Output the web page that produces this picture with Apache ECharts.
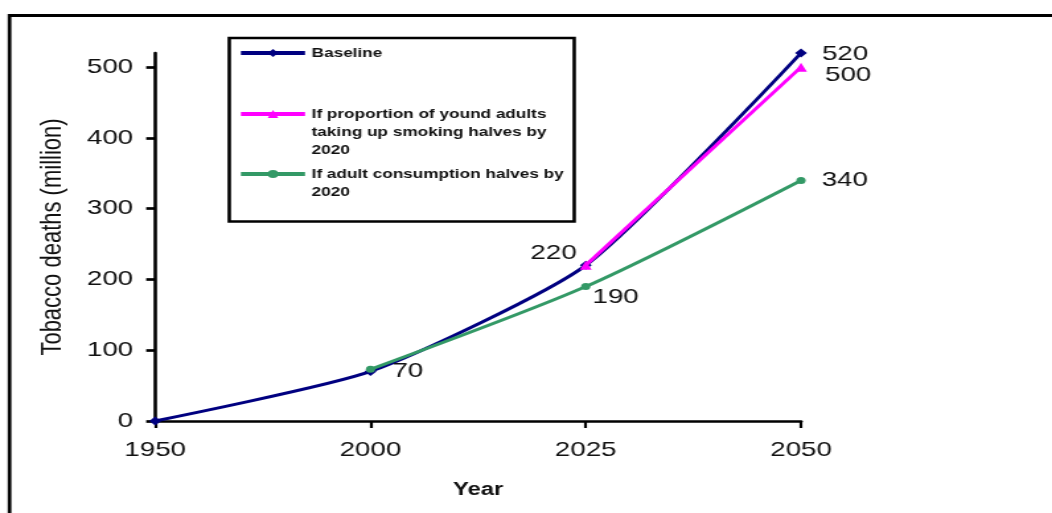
<!DOCTYPE html>
<html><head><meta charset="utf-8">
<script src="https://cdn.jsdelivr.net/npm/echarts@6/dist/echarts.min.js"></script>
<style>
html,body{margin:0;padding:0;background:#fff;overflow:hidden}
#c{height:513px;transform-origin:0 0}
</style>
</head><body><div id="c"></div>
<script>
// ---- data ----
const years = ['1950', '2000', '2025', '2050'];
const baseline = [0, 70, 220, 520];
const youngHalves = [null, null, 220, 500];
const adultHalves = [null, 73, 190, 340];
const yTicks = [0, 100, 200, 300, 400, 500];
const seriesNames = [
  'Baseline',
  'If proportion of yound adults taking up smoking halves by 2020',
  'If adult consumption halves by 2020'
];
const legendLines = [
  ['Baseline'],
  ['If proportion of yound adults', 'taking up smoking halves by', '2020'],
  ['If adult consumption halves by', '2020']
];
// which points carry a value label (index -> placement key)
const baselineLabelAt = [null, 'r70', 'l220', 'r520'];
const youngLabelAt = [null, null, null, 'r500'];
const adultLabelAt = [null, null, 'r190', 'r340'];

// ---- layout / styles (the reference picture is horizontally stretched) ----
const SX = 1.32;
const W = 1052 / SX;
const el = document.getElementById('c');
el.style.width = W + 'px';
el.style.transform = 'scaleX(' + SX + ')';
const px = v => v / SX; // horizontal reference pixels -> chart pixels

const FONT = '"Liberation Sans", Arial, sans-serif';
const labelStyles = {
  r70: { position: 'right', distance: px(16), offset: [0, 0] },
  l220: { position: 'left', distance: px(3), offset: [0, -12] },
  r520: { position: 'right', distance: px(15), offset: [0, 1] },
  r500: { position: 'right', distance: px(18), offset: [0, 8] },
  r190: { position: 'right', distance: px(2), offset: [0, 11] },
  r340: { position: 'right', distance: px(16), offset: [0, 0] }
};
function build(values, labelAt) {
  return values.map((v, i) => {
    if (v === null) return null;
    const key = labelAt[i];
    if (!key) return { value: v };
    return { value: v, label: Object.assign({ show: true, fontSize: 21, fontFamily: FONT, color: '#111' }, labelStyles[key]) };
  });
}
const colors = ['#000080', '#FF00FF', '#339966'];
const lineH = 18;
const legendTops = [44, 69, 147];

const chart = echarts.init(el, null, { renderer: 'canvas', width: W, height: 513 });
chart.setOption({
  animation: false,
  backgroundColor: '#fff',
  color: colors,
  grid: { left: px(155), right: px(252), top: 53, bottom: 92, containLabel: false },
  graphic: [
    { type: 'rect', shape: { x: px(9.5), y: 15.5, width: 1200, height: 700 }, style: { fill: 'none', stroke: '#000', lineWidth: 2.8 }, silent: true, z: 0 },
    { type: 'rect', shape: { x: px(229), y: 38, width: px(344.5), height: 183.5 }, style: { fill: '#fff', stroke: '#000', lineWidth: 2.6 }, silent: true, z: 1 }
  ],
  legend: [0, 1, 2].map(i => ({
    data: [seriesNames[i]],
    left: px(238), top: legendTops[i], padding: 0, itemGap: 0,
    itemWidth: px(64), itemHeight: 10, z: 5,
    selectedMode: false,
    lineStyle: { width: 4 },
    formatter: () => '\n'.repeat(legendLines[i].length - 1) + legendLines[i].join('\n'),
    textStyle: { fontFamily: FONT, fontSize: 13, fontWeight: 'bold', color: '#111', lineHeight: lineH }
  })),
  xAxis: {
    type: 'category', data: years, boundaryGap: false,
    axisLine: { lineStyle: { color: '#000', width: 2.7 } },
    axisTick: { show: true, length: 7, lineStyle: { color: '#000', width: 2.2 } },
    axisLabel: { fontSize: 21, fontFamily: FONT, color: '#111', margin: 19 },
    name: 'Year', nameLocation: 'middle', nameGap: 60,
    nameTextStyle: { fontSize: 18, fontWeight: 'bold', fontFamily: FONT, color: '#111' }
  },
  yAxis: {
    type: 'value', min: 0, max: 520, interval: 100,
    axisLine: { show: true, lineStyle: { color: '#000', width: 2.6 } },
    axisTick: { show: true, length: px(9), customValues: yTicks, lineStyle: { color: '#000', width: 2.7 } },
    axisLabel: { customValues: yTicks, fontSize: 21, fontFamily: FONT, color: '#111', margin: px(22) },
    splitLine: { show: false },
    name: 'Tobacco deaths (million)', nameLocation: 'middle', nameGap: px(88),
    nameTextStyle: { fontSize: 22, fontFamily: FONT, color: '#111' }
  },
  series: [
    {
      name: seriesNames[0], type: 'line', data: build(baseline, baselineLabelAt),
      smooth: 0.2, symbol: 'diamond', symbolSize: 9, showAllSymbol: true,
      lineStyle: { width: 3, color: colors[0] }, itemStyle: { color: colors[0] }, z: 2
    },
    {
      name: seriesNames[1], type: 'line', data: build(youngHalves, youngLabelAt),
      symbol: 'triangle', symbolSize: 9,
      lineStyle: { width: 3, color: colors[1] }, itemStyle: { color: colors[1] }, z: 3
    },
    {
      name: seriesNames[2], type: 'line', data: build(adultHalves, adultLabelAt),
      smooth: 0.25, symbol: 'circle', symbolSize: 7,
      lineStyle: { width: 3, color: colors[2] }, itemStyle: { color: colors[2] }, z: 4
    }
  ]
});
</script>
</body></html>
